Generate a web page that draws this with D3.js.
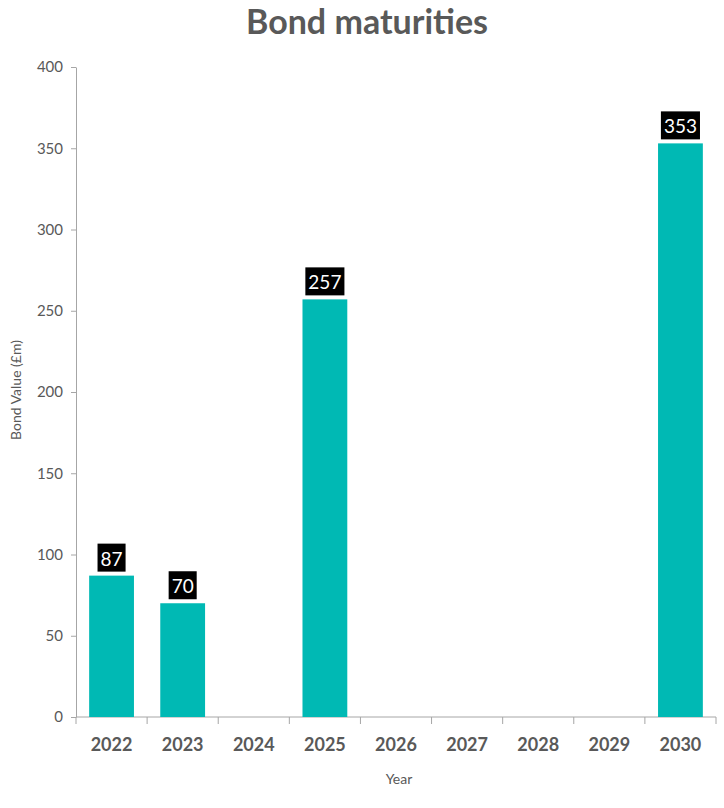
<!DOCTYPE html>
<html>
<head>
<meta charset="utf-8">
<script src="https://cdn.jsdelivr.net/npm/d3@7"></script>
<style>
  body { margin: 0; background: #fff; }
  text { font-family: Lato, "Open Sans", sans-serif; }
</style>
</head>
<body>
<script>
const years = ['2022', '2023', '2024', '2025', '2026', '2027', '2028', '2029', '2030'];
const values = [87, 70, null, 257, null, null, null, null, 353];
const yTicks = [0, 50, 100, 150, 200, 250, 300, 350, 400];

const W = 724, H = 808;
const margin = {top: 67, right: 8, bottom: 91, left: 76};
const grey = '#595959';

const svg = d3.select('body')
                .append('svg')
                  .attr('width', W)
                  .attr('height', H);

const x = d3.scaleBand()
              .domain(years)
              .range([margin.left, W - margin.right])
              .paddingInner(0.37)
              .paddingOuter(0.185);

const y = d3.scaleLinear()
              .domain([0, 400])
              .range([H - margin.bottom, margin.top]);

// title
svg.append('text')
    .attr('x', 367)
    .attr('y', 34)
    .attr('text-anchor', 'middle')
    .attr('font-size', 34)
    .attr('font-weight', 'bold')
    .attr('fill', grey)
    .text('Bond maturities');

// y axis
const yAxis = svg.append('g')
    .attr('transform', `translate(${margin.left},0)`)
    .call(d3.axisLeft(y).tickValues(yTicks).tickSize(5).tickPadding(8).tickSizeOuter(0));
yAxis.select('.domain').attr('stroke', '#a6a6a6');
yAxis.selectAll('.tick line').attr('stroke', '#a6a6a6');
yAxis.selectAll('.tick text')
    .attr('fill', grey)
    .attr('font-size', 15)
    .style('font-family', 'Lato, sans-serif');

// x axis (ticks at band edges)
const xAxisG = svg.append('g')
    .attr('transform', `translate(0,${y(0)})`);
xAxisG.append('line')
    .attr('x1', margin.left).attr('x2', W - margin.right)
    .attr('stroke', '#a6a6a6');
const edges = years.map((d, i) => margin.left + (i + 1) * (W - margin.right - margin.left) / years.length);
xAxisG.selectAll('.edge')
    .data([margin.left].concat(edges))
    .enter()
      .append('line')
        .attr('x1', d => d).attr('x2', d => d)
        .attr('y1', 0).attr('y2', 7)
        .attr('stroke', '#a6a6a6');
xAxisG.selectAll('.lbl')
    .data(years)
    .enter()
      .append('text')
        .attr('x', d => x(d) + x.bandwidth() / 2)
        .attr('y', 34)
        .attr('text-anchor', 'middle')
        .attr('font-size', 18)
        .attr('font-weight', 'bold')
        .attr('fill', grey)
        .text(d => d);

// axis titles
svg.append('text')
    .attr('x', 399)
    .attr('y', 784)
    .attr('text-anchor', 'middle')
    .attr('font-size', 14)
    .attr('fill', grey)
    .text('Year');
svg.append('text')
    .attr('transform', 'translate(21,390) rotate(-90)')
    .attr('text-anchor', 'middle')
    .attr('font-size', 14)
    .attr('fill', grey)
    .text('Bond Value (£m)');

// bars
const data = years.map((d, i) => ({year: d, value: values[i]})).filter(d => d.value != null);
svg.selectAll('rect.bar')
    .data(data)
    .enter()
      .append('rect')
        .attr('class', 'bar')
        .attr('x', d => x(d.year))
        .attr('y', d => y(d.value))
        .attr('width', x.bandwidth())
        .attr('height', d => y(0) - y(d.value))
        .attr('fill', '#00B9B4');

// data labels
const lbl = svg.selectAll('g.lab')
    .data(data)
    .enter()
      .append('g')
        .attr('class', 'lab');
lbl.append('rect')
    .attr('fill', '#000');
lbl.append('text')
    .attr('x', d => x(d.year) + x.bandwidth() / 2)
    .attr('y', d => y(d.value) - 10)
    .attr('text-anchor', 'middle')
    .attr('font-size', 19)
    .attr('fill', '#fff')
    .text(d => d.value);
lbl.each(function (d) {
    const t = d3.select(this).select('text').node().getBBox();
    d3.select(this).select('rect')
        .attr('x', t.x - 3)
        .attr('y', y(d.value) - 32)
        .attr('width', t.width + 6)
        .attr('height', 28);
});
</script>
</body>
</html>
